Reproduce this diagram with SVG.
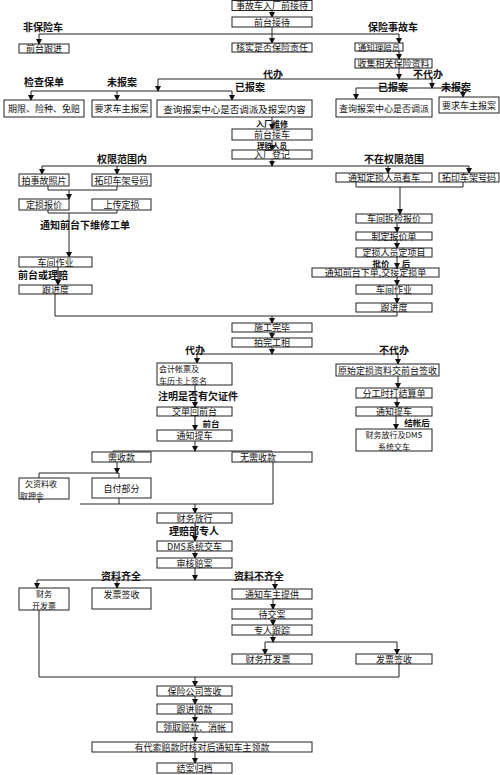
<svg xmlns="http://www.w3.org/2000/svg" width="500" height="775" viewBox="0 0 500 775">
<style>
.b{fill:#fff;stroke:#222;stroke-width:1}
.t{font-family:"Noto Sans CJK SC","Noto Sans",sans-serif;font-size:9px;fill:#111;text-anchor:middle;dominant-baseline:central}
.s{font-size:8.5px}
.d{font-size:8px}
.l{font-family:"Noto Sans CJK SC","Noto Sans",sans-serif;font-size:10px;font-weight:bold;fill:#111;text-anchor:middle;dominant-baseline:central}
.m{font-size:8.5px}
.c{fill:none;stroke:#222;stroke-width:1}
.a{marker-end:url(#ar)}
</style>
<defs>
<marker id="ar" markerUnits="userSpaceOnUse" markerWidth="6" markerHeight="6" refX="5" refY="3" orient="auto">
<path d="M0,0 L6,3 L0,6 z" fill="#111"/>
</marker>
</defs>
<rect width="500" height="775" fill="#fff"/>
<g id="connectors">
<path class="c a" d="M272,10 V17"/>
<path class="c" d="M272,27 V34 M39,34 H399"/>
<path class="c a" d="M39,34 V44"/>
<path class="c a" d="M272,34 V43"/>
<path class="c a" d="M399,34 V43"/>
<path class="c a" d="M399,51 V59"/>
<path class="c a" d="M399,68 V79"/>
<path class="c" d="M158,79 H432"/>
<path class="c a" d="M158,79 V91"/>
<path class="c" d="M31,91 H232"/>
<path class="c a" d="M31,91 V100"/>
<path class="c a" d="M117,91 V100"/>
<path class="c a" d="M232,91 V100"/>
<path class="c a" d="M432,79 V88"/>
<path class="c" d="M356,88 H463"/>
<path class="c a" d="M356,88 V99"/>
<path class="c a" d="M463,88 V97"/>
<path class="c a" d="M272,117 V129"/>
<path class="c a" d="M272,140 V150"/>
<path class="c a" d="M272,159 V166"/>
<path class="c" d="M42,166 H469"/>
<path class="c a" d="M42,166 V174"/>
<path class="c a" d="M117,166 V174"/>
<path class="c a" d="M388,166 V173"/>
<path class="c a" d="M469,166 V173"/>
<path class="c" d="M48,186 V190 H117 V186"/>
<path class="c a" d="M69,190 V199"/>
<path class="c" d="M48,210 V213 H117 V210"/>
<path class="c a" d="M69,213 V257"/>
<path class="c a" d="M58,267 V285"/>
<path class="c" d="M55,294 V316 H397 V312"/>
<path class="c a" d="M272,316 V323"/>
<path class="c" d="M356,182 V187 H463 V182"/>
<path class="c a" d="M400,187 V214"/>
<path class="c a" d="M397,223 V232"/>
<path class="c a" d="M397,240 V248"/>
<path class="c a" d="M397,257 V268"/>
<path class="c a" d="M397,277 V285"/>
<path class="c a" d="M397,294 V303"/>
<path class="c a" d="M272,332 V338"/>
<path class="c a" d="M272,347 V354"/>
<path class="c" d="M197,354 H398"/>
<path class="c a" d="M197,354 V363"/>
<path class="c a" d="M398,354 V364"/>
<path class="c a" d="M398,376 V388"/>
<path class="c a" d="M397,398 V407"/>
<path class="c a" d="M396,416 V429"/>
<path class="c a" d="M195,385 V407"/>
<path class="c a" d="M195,416 V430"/>
<path class="c a" d="M195,441 V451"/>
<path class="c" d="M113,452 V451 H272 V452"/>
<path class="c a" d="M117,462 V473"/>
<path class="c" d="M39,478 V473 H119 V478"/>
<path class="c" d="M39,499 V503"/>
<path class="c" d="M119,498 V504 M273,462 V504 M80,504 H273"/>
<path class="c a" d="M195,504 V513"/>
<path class="c a" d="M195,523 V541"/>
<path class="c a" d="M195,551 V558"/>
<path class="c a" d="M195,568 V580"/>
<path class="c" d="M37,580 H275"/>
<path class="c a" d="M37,580 V588"/>
<path class="c a" d="M117,580 V588"/>
<path class="c a" d="M275,580 V589"/>
<path class="c a" d="M273,599 V609"/>
<path class="c a" d="M273,619 V625"/>
<path class="c a" d="M273,635 V642"/>
<path class="c" d="M265,642 H397"/>
<path class="c a" d="M265,642 V654"/>
<path class="c a" d="M397,642 V654"/>
<path class="c" d="M399,664 V677 M39,610 V677 H399"/>
<path class="c a" d="M195,677 V686"/>
<path class="c a" d="M195,696 V704"/>
<path class="c a" d="M195,714 V722"/>
<path class="c a" d="M195,732 V742"/>
<path class="c a" d="M195,752 V763"/>
</g>
<g id="labels">
<text class="l" x="43" y="26">非保险车</text>
<text class="l" x="393" y="26">保险事故车</text>
<text class="l" x="273" y="73">代办</text>
<text class="l" x="428" y="73">不代办</text>
<text class="l" x="44" y="81">检查保单</text>
<text class="l" x="122" y="81">未报案</text>
<text class="l" x="250" y="86">已报案</text>
<text class="l" x="393" y="86">已报案</text>
<text class="l" x="456" y="86">未报案</text>
<text class="l" x="272" y="123" style="font-size:8px">入厂维修</text>
<text class="l" x="272" y="145" style="font-size:7.5px">理赔人员</text>
<text class="l" x="122" y="158">权限范围内</text>
<text class="l" x="394" y="158">不在权限范围</text>
<text class="l" x="85" y="224">通知前台下维修工单</text>
<text class="l" x="43" y="274">前台或理赔</text>
<text class="l m" x="381" y="262.5">批价</text>
<text class="l m" x="406" y="262.5">后</text>
<text class="l" x="195" y="349">代办</text>
<text class="l" x="394" y="349">不代办</text>
<text class="l" x="198" y="395">注明是否有欠证件</text>
<text class="l m" x="211" y="423">前台</text>
<text class="l m" x="417" y="422">结帐后</text>
<text class="l" x="194" y="530">理赔部专人</text>
<text class="l" x="121" y="575">资料齐全</text>
<text class="l" x="259" y="575">资料不齐全</text>
</g>
<g id="n1"><rect class="b" x="232" y="0.5" width="80" height="10"/><text class="t" x="272" y="5.5">事故车入厂前接待</text></g>
<g id="n2"><rect class="b" x="232" y="17" width="80" height="10"/><text class="t" x="272" y="22">前台接待</text></g>
<g id="n3"><rect class="b" x="19" y="44" width="50" height="9"/><text class="t" x="44" y="48.5">前台跟进</text></g>
<g id="n4"><rect class="b" x="232" y="43" width="80" height="9"/><text class="t" x="272" y="47.5">核实是否保险责任</text></g>
<g id="n5"><rect class="b" x="355" y="43" width="48" height="8"/><text class="t s" x="379" y="47">通知理赔员</text></g>
<g id="n6"><rect class="b" x="355" y="59" width="77" height="9"/><text class="t" x="393.5" y="63.5">收集相关保险资料</text></g>
<g id="n7"><rect class="b" x="4" y="100" width="80" height="17"/><text class="t" x="44" y="108.5">期限、险种、免赔</text></g>
<g id="n8"><rect class="b" x="92" y="100" width="59" height="17"/><text class="t" x="121.5" y="108.5">要求车主报案</text></g>
<g id="n9"><rect class="b" x="157" y="100" width="155" height="17"/><text class="t" x="234.5" y="108.5" style="font-size:9.5px">查询报案中心是否调派及报案内容</text></g>
<g id="n10"><rect class="b" x="336" y="99" width="96" height="18"/><text class="t" x="384" y="108">查询报案中心是否调派</text></g>
<g id="n11"><rect class="b" x="439" y="97" width="60" height="16"/><text class="t" x="469" y="105">要求车主报案</text></g>
<g id="n12"><rect class="b" x="232" y="129" width="80" height="11"/><text class="t" x="272" y="134.5">前台接车</text></g>
<g id="n13"><rect class="b" x="232" y="150" width="80" height="9"/><text class="t" x="272" y="154.5">入厂登记</text></g>
<g id="n14"><rect class="b" x="19" y="174" width="50" height="12"/><text class="t" x="44" y="180">拍事故照片</text></g>
<g id="n15"><rect class="b" x="92" y="174" width="59" height="12"/><text class="t" x="121.5" y="180">拓印车架号码</text></g>
<g id="n16"><rect class="b" x="336" y="173" width="96" height="9"/><text class="t" x="384" y="177.5">通知定损人员看车</text></g>
<g id="n17"><rect class="b" x="439" y="173" width="60" height="9"/><text class="t" x="469" y="177.5">拓印车架号码</text></g>
<g id="n18"><rect class="b" x="19" y="199" width="50" height="11"/><text class="t" x="44" y="204.5">定损报价</text></g>
<g id="n19"><rect class="b" x="92" y="199" width="59" height="11"/><text class="t" x="121.5" y="204.5">上传定损</text></g>
<g id="n20"><rect class="b" x="19" y="257" width="73" height="10"/><text class="t" x="55.5" y="262">车间作业</text></g>
<g id="n21"><rect class="b" x="19" y="285" width="73" height="9"/><text class="t" x="55.5" y="289.5">跟进度</text></g>
<g id="n22"><rect class="b" x="356" y="214" width="76" height="9"/><text class="t" x="394" y="218.5">车间拆检报价</text></g>
<g id="n23"><rect class="b" x="356" y="232" width="76" height="8"/><text class="t" x="394" y="236">制定报价单</text></g>
<g id="n24"><rect class="b" x="356" y="248" width="76" height="9"/><text class="t" x="394" y="252.5">定损人员定项目</text></g>
<g id="n25"><rect class="b" x="312" y="268" width="127" height="9"/><text class="t" x="375.5" y="272.5">通知前台下单,交接定损单</text></g>
<g id="n26"><rect class="b" x="356" y="285" width="76" height="9"/><text class="t" x="394" y="289.5">车间作业</text></g>
<g id="n27"><rect class="b" x="356" y="303" width="76" height="9"/><text class="t" x="394" y="307.5">跟进度</text></g>
<g id="n28"><rect class="b" x="232" y="323" width="80" height="9"/><text class="t" x="272" y="327.5">施工完毕</text></g>
<g id="n29"><rect class="b" x="232" y="338" width="80" height="9"/><text class="t" x="272" y="342.5">拍完工相</text></g>
<g id="n30"><rect class="b" x="157" y="363" width="75" height="22"/><text class="t d" style="text-anchor:start"><tspan x="159" y="368">会计帐票及</tspan><tspan x="159" y="380">车历卡上签名</tspan></text></g>
<g id="n31"><rect class="b" x="336" y="364" width="103" height="12"/><text class="t" x="387.5" y="370">原始定损资料交前台签收</text></g>
<g id="n32"><rect class="b" x="356" y="388" width="76" height="10"/><text class="t" x="394" y="393">分工时打结算单</text></g>
<g id="n33"><rect class="b" x="356" y="407" width="76" height="9"/><text class="t" x="394" y="411.5">通知提车</text></g>
<g id="n34"><rect class="b" x="356" y="429" width="76" height="22"/><text class="t d"><tspan x="394" y="434">财务放行及DMS</tspan><tspan x="394" y="446">系统交车</tspan></text></g>
<g id="n35"><rect class="b" x="157" y="407" width="75" height="9"/><text class="t" x="194.5" y="411.5">交单回前台</text></g>
<g id="n36"><rect class="b" x="157" y="430" width="75" height="11"/><text class="t" x="194.5" y="435.5">通知提车</text></g>
<g id="n37"><rect class="b" x="92" y="452" width="59" height="10"/><text class="t" x="121.5" y="457">需收款</text></g>
<g id="n38"><rect class="b" x="232" y="452" width="80" height="10"/><text class="t" x="258" y="457">无需收款</text></g>
<g id="n39"><rect class="b" x="19" y="478" width="50" height="21"/><text class="t d" style="text-anchor:start"><tspan x="25" y="482.5">欠资料收</tspan><tspan x="20" y="494.5">取押金</tspan></text></g>
<g id="n40"><rect class="b" x="92" y="478" width="59" height="20"/><text class="t" x="121.5" y="488">自付部分</text></g>
<g id="n41"><rect class="b" x="157" y="513" width="75" height="10"/><text class="t" x="194.5" y="518">财务放行</text></g>
<g id="n42"><rect class="b" x="157" y="541" width="75" height="10"/><text class="t" x="194.5" y="546">DMS系统交车</text></g>
<g id="n43"><rect class="b" x="157" y="558" width="75" height="10"/><text class="t" x="194.5" y="563">审核赔案</text></g>
<g id="n44"><rect class="b" x="19" y="588" width="50" height="22"/><text class="t d"><tspan x="44" y="593">财务</tspan><tspan x="44" y="605">开发票</tspan></text></g>
<g id="n45"><rect class="b" x="92" y="588" width="59" height="21"/><text class="t" x="121.5" y="594">发票签收</text></g>
<g id="n46"><rect class="b" x="232" y="589" width="80" height="10"/><text class="t" x="272" y="594">通知车主提供</text></g>
<g id="n47"><rect class="b" x="232" y="609" width="80" height="10"/><text class="t" x="272" y="614">待交案</text></g>
<g id="n48"><rect class="b" x="232" y="625" width="80" height="10"/><text class="t" x="272" y="630">专人跟踪</text></g>
<g id="n49"><rect class="b" x="232" y="654" width="80" height="10"/><text class="t" x="268" y="659">财务开发票</text></g>
<g id="n50"><rect class="b" x="356" y="654" width="76" height="10"/><text class="t" x="394" y="659">发票签收</text></g>
<g id="n51"><rect class="b" x="157" y="686" width="75" height="10"/><text class="t" x="194.5" y="691">保险公司签收</text></g>
<g id="n52"><rect class="b" x="157" y="704" width="75" height="10"/><text class="t" x="194.5" y="709">跟进赔款</text></g>
<g id="n53"><rect class="b" x="157" y="722" width="75" height="10"/><text class="t" x="194.5" y="727">领取赔款、消帐</text></g>
<g id="n54"><rect class="b" x="92" y="742" width="220" height="10"/><text class="t" x="202" y="747">有代索赔款时核对后通知车主领款</text></g>
<g id="n55"><rect class="b" x="157" y="763" width="75" height="10"/><text class="t" x="194.5" y="768">结案归档</text></g>
</svg>
